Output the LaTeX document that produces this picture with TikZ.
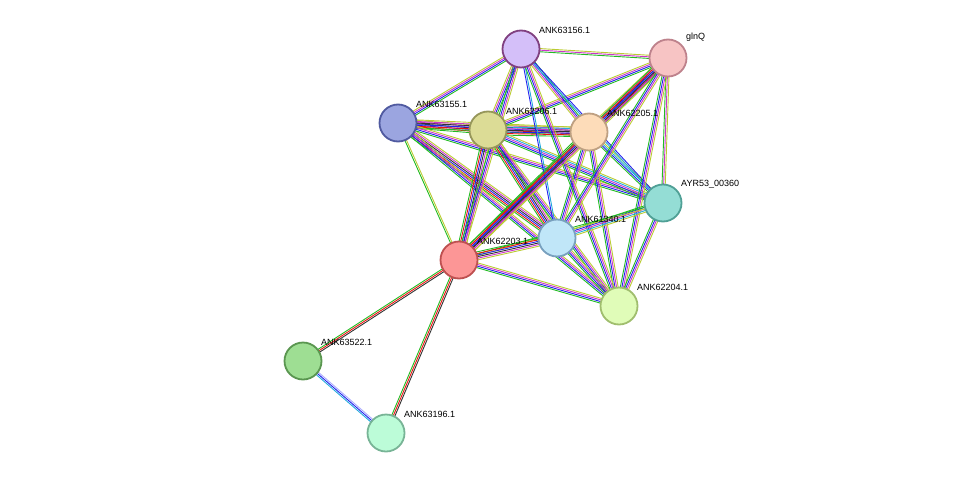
\documentclass[tikz,border=0pt]{standalone}
\usepackage{fontspec}
\setmainfont{Liberation Sans}
\usetikzlibrary{calc}
\pgfdeclarelayer{bg}\pgfsetlayers{bg,main}
\definecolor{eg}{HTML}{22BB22}
\definecolor{er}{HTML}{EE1111}
\definecolor{eb}{HTML}{2222EE}
\definecolor{ek}{HTML}{333333}
\definecolor{em}{HTML}{CC33CC}
\definecolor{ey}{HTML}{BBCC33}
\definecolor{ec}{HTML}{22AADD}
\definecolor{ep}{HTML}{AAAAFF}
\tikzset{x=1pt,y=-1pt,
 prot/.style={circle,draw,line width=1.8pt,minimum size=37pt,inner sep=0pt},
 lab/.style={anchor=south west,font=\fontsize{9pt}{10pt}\selectfont,inner sep=1pt}}
\newcommand\edg[4]{%
 \edef\edglist{#4}%
 \foreach \c [count=\i] in \edglist {%
  \pgfmathsetmacro\o{(\i-1-(#3-1)/2)*1.6}%
  \draw[draw=\c,line width=0.9pt] ($(#1)!\o pt!90:(#2)$) -- ($(#2)!\o pt!-90:(#1)$);}}
\begin{document}
\begin{tikzpicture}
\useasboundingbox (0,0) rectangle (976,479);
\node[prot,draw=violet!50!gray,fill={rgb,255:red,212;green,191;blue,249}] (A) at (521,49) {};
\node[prot,draw={rgb,255:red,190;green,130;blue,140},fill={rgb,255:red,247;green,196;blue,196}] (G) at (668,58) {};
\node[prot,draw={rgb,255:red,80;green,90;blue,160},fill={rgb,255:red,155;green,165;blue,224}] (B) at (398,123) {};
\node[prot,draw={rgb,255:red,150;green,150;blue,90},fill={rgb,255:red,220;green,220;blue,150}] (O) at (488,130) {};
\node[prot,draw={rgb,255:red,190;green,160;blue,130},fill={rgb,255:red,253;green,220;blue,185}] (P) at (589,132) {};
\node[prot,draw={rgb,255:red,80;green,160;blue,150},fill={rgb,255:red,148;green,221;blue,213}] (T) at (663,203) {};
\node[prot,draw={rgb,255:red,120;green,160;blue,190},fill={rgb,255:red,192;green,230;blue,248}] (L) at (557,238) {};
\node[prot,draw={rgb,255:red,190;green,80;blue,80},fill={rgb,255:red,252;green,150;blue,150}] (R) at (459,260) {};
\node[prot,draw={rgb,255:red,160;green,190;blue,110},fill={rgb,255:red,224;green,252;blue,184}] (Y) at (619,306) {};
\node[prot,draw={rgb,255:red,90;green,150;blue,80},fill={rgb,255:red,158;green,222;blue,147}] (N) at (303,361) {};
\node[prot,draw={rgb,255:red,120;green,180;blue,150},fill={rgb,255:red,188;green,252;blue,216}] (S) at (386,433) {};
\node[lab] (lA) at (538,35) {ANK63156.1};
\node[lab] (lG) at (685,43) {glnQ};
\node[lab] (lB) at (415,109) {ANK63155.1};
\node[lab] (lO) at (505,116) {ANK62206.1};
\node[lab] (lP) at (606,118) {ANK62205.1};
\node[lab] (lT) at (680,189) {AYR53\_00360};
\node[lab] (lL) at (574,224) {ANK61340.1};
\node[lab] (lR) at (476,246) {ANK62203.1};
\node[lab] (lY) at (636,292) {ANK62204.1};
\node[lab] (lN) at (320,347) {ANK63522.1};
\node[lab] (lS) at (403,419) {ANK63196.1};
\begin{pgfonlayer}{bg}
\def\full{eg,er,eb,ek,em,ey}
\def\mid{eg,eb,em,ey}
\edg{B}{O}{6}{\full}
\edg{B}{P}{6}{\full}
\edg{B}{A}{4}{\mid}
\edg{B}{R}{2}{eg,ey}
\edg{B}{L}{6}{\full}
\edg{B}{T}{4}{\mid}
\edg{B}{Y}{4}{\mid}
\edg{O}{P}{7}{eg,er,eb,ek,em,ec,ey}
\edg{O}{A}{4}{\mid}
\edg{O}{G}{4}{\mid}
\edg{O}{R}{6}{\full}
\edg{O}{L}{6}{\full}
\edg{O}{Y}{4}{\mid}
\edg{O}{T}{5}{eg,eb,em,ec,ey}
\edg{P}{A}{4}{\mid}
\edg{P}{G}{6}{\full}
\edg{P}{R}{6}{\full}
\edg{P}{L}{4}{\mid}
\edg{P}{T}{4}{eg,eb,ec,ey}
\edg{P}{Y}{4}{\mid}
\edg{A}{G}{3}{eg,em,ey}
\edg{A}{R}{4}{\mid}
\edg{A}{L}{2}{eb,ec}
\edg{A}{Y}{4}{\mid}
\edg{A}{T}{2}{ec,eb}
\edg{G}{R}{6}{\full}
\edg{G}{L}{4}{\mid}
\edg{G}{T}{3}{eg,em,ey}
\edg{G}{Y}{4}{\mid}
\edg{T}{L}{5}{eg,eb,em,ec,ey}
\edg{T}{R}{2}{eg,ey}
\edg{T}{Y}{4}{\mid}
\edg{L}{R}{6}{\full}
\edg{L}{Y}{4}{\mid}
\edg{R}{Y}{4}{\mid}
\edg{R}{N}{3}{eg,er,ek}
\edg{R}{S}{3}{eg,er,ek}
\edg{N}{S}{3}{ec,eb,ep}
\end{pgfonlayer}
\end{tikzpicture}
\end{document}
